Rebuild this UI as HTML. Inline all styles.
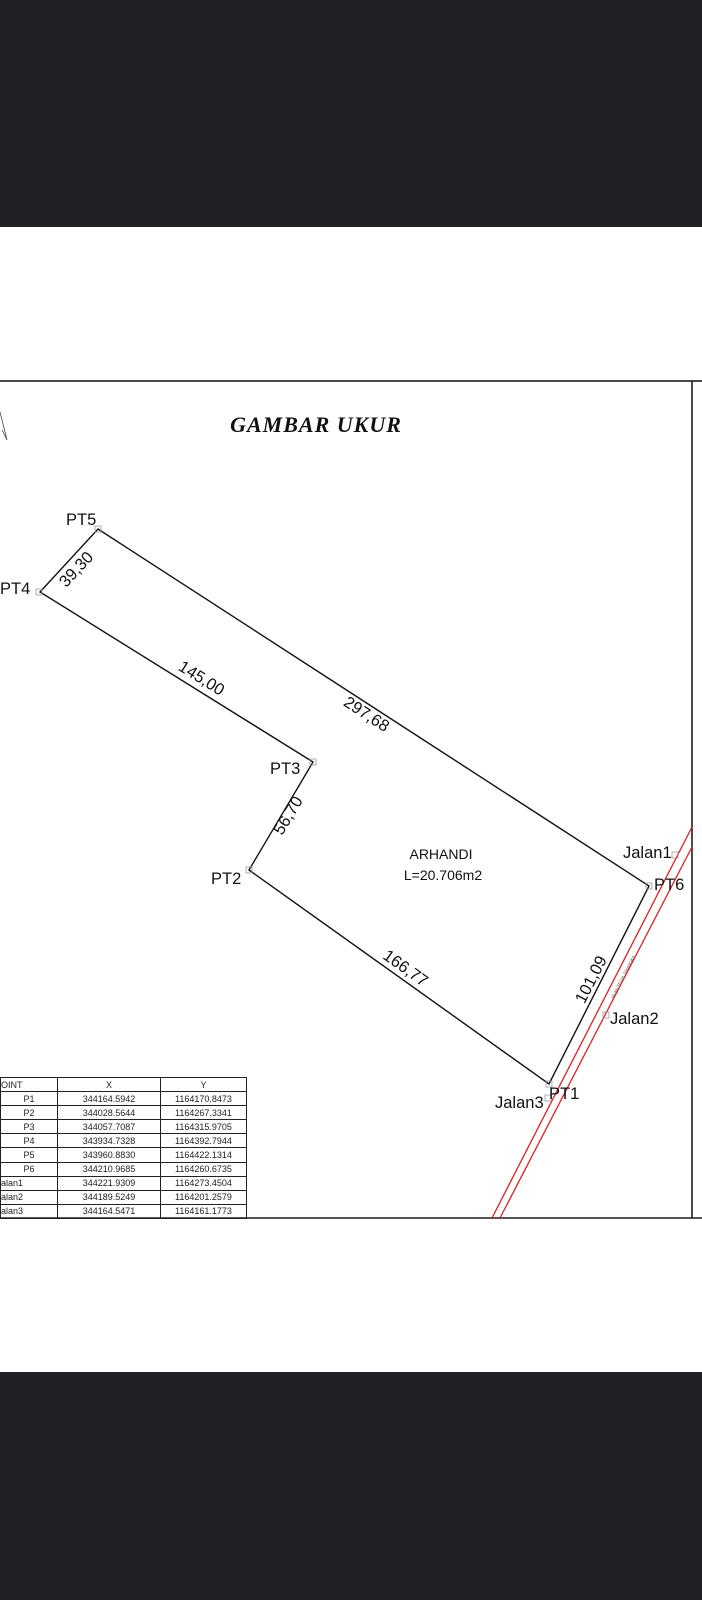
<!DOCTYPE html>
<html><head><meta charset="utf-8"><style>
body{margin:0;width:702px;height:1600px;overflow:hidden;background:#fff;font-family:"Liberation Sans",sans-serif}
.band{position:absolute;left:0;width:702px;background:#1f2124}
table{position:absolute;left:0;top:1077px;width:247px;border-collapse:collapse;font-size:9px;color:#222}
td{border:1px solid #222;height:13.1px;padding:0;text-align:center;line-height:12px}
</style></head><body>
<div class="band" style="top:0;height:227px"></div>
<div class="band" style="top:1372px;height:228px"></div>
<svg width="702" height="1600" style="position:absolute;left:0;top:0" font-family="Liberation Sans, sans-serif">
<line x1="0" y1="381" x2="702" y2="381" stroke="#111" stroke-width="1.5"/>
<line x1="0" y1="1218" x2="702" y2="1218" stroke="#555" stroke-width="2"/>
<line x1="692" y1="381" x2="692" y2="1218" stroke="#111" stroke-width="1.5"/>
<polyline points="0,412 7,440 2,430" fill="none" stroke="#444" stroke-width="0.8"/>
<text x="316" y="432" text-anchor="middle" font-family="Liberation Serif, serif" font-style="italic" font-weight="bold" font-size="22" fill="#111" letter-spacing="1">GAMBAR UKUR</text>
<line x1="492" y1="1218" x2="692" y2="827" stroke="#e02020" stroke-width="1.3"/>
<line x1="500" y1="1218" x2="692" y2="847" stroke="#e02020" stroke-width="1.3"/>
<polygon points="98,529 649,886 549,1084 249,870 313,762 40,592" fill="none" stroke="#111" stroke-width="1.4"/>
<g fill="none" stroke="#99a" stroke-width="0.8">
<rect x="95" y="526" width="6" height="6"/><rect x="36" y="589" width="6" height="6"/><rect x="310" y="759" width="6" height="6"/><rect x="246" y="867" width="6" height="6"/><rect x="646" y="883" width="6" height="6"/><rect x="546" y="1081" width="6" height="6"/><rect x="672" y="852" width="6" height="6"/><rect x="603" y="1012" width="6" height="6"/><rect x="545" y="1095" width="6" height="6"/>
</g>
<g font-size="16.5" fill="#111">
<text x="66" y="525">PT5</text>
<text x="0" y="594">PT4</text>
<text x="270" y="774">PT3</text>
<text x="211" y="884">PT2</text>
<text x="654" y="890">PT6</text>
<text x="623" y="858">Jalan1</text>
<text x="610" y="1024">Jalan2</text>
<text x="495" y="1108">Jalan3</text>
<text x="549" y="1099">PT1</text>
<text x="441" y="859" text-anchor="middle" font-size="14">ARHANDI</text>
<text x="443" y="880" text-anchor="middle" font-size="14">L=20.706m2</text>
<text transform="translate(77,570) rotate(-47)" text-anchor="middle" dominant-baseline="middle">39,30</text>
<text transform="translate(201,679) rotate(32)" text-anchor="middle" dominant-baseline="middle">145,00</text>
<text transform="translate(366,715) rotate(33)" text-anchor="middle" dominant-baseline="middle">297,68</text>
<text transform="translate(289,816) rotate(-59)" text-anchor="middle" dominant-baseline="middle">56,70</text>
<text transform="translate(405,969) rotate(35.5)" text-anchor="middle" dominant-baseline="middle">166,77</text>
<text transform="translate(592,980) rotate(-63)" text-anchor="middle" dominant-baseline="middle">101,09</text>
</g>
<text transform="translate(624,978) rotate(-63)" text-anchor="middle" font-size="4" fill="#555">JALAN TEGAL SINANGKA</text>
</svg>
<table>
<tr><td style="width:56px;text-align:left">OINT</td><td style="width:102px">X</td><td>Y</td></tr>
<tr><td>P1</td><td>344164.5942</td><td>1164170.8473</td></tr>
<tr><td>P2</td><td>344028.5644</td><td>1164267.3341</td></tr>
<tr><td>P3</td><td>344057.7087</td><td>1164315.9705</td></tr>
<tr><td>P4</td><td>343934.7328</td><td>1164392.7944</td></tr>
<tr><td>P5</td><td>343960.8830</td><td>1164422.1314</td></tr>
<tr><td>P6</td><td>344210.9685</td><td>1164260.6735</td></tr>
<tr><td style="text-align:left">alan1</td><td>344221.9309</td><td>1164273.4504</td></tr>
<tr><td style="text-align:left">alan2</td><td>344189.5249</td><td>1164201.2579</td></tr>
<tr><td style="text-align:left">alan3</td><td>344164.5471</td><td>1164161.1773</td></tr>
</table>
</body></html>
